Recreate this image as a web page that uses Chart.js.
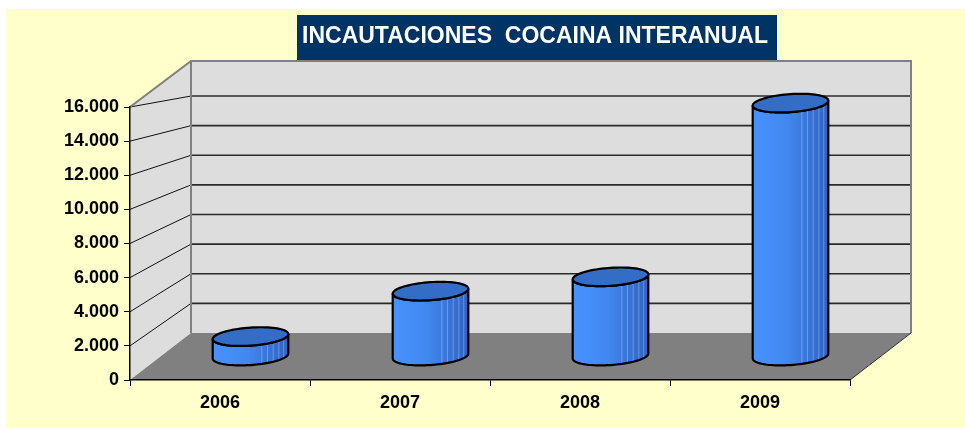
<!DOCTYPE html>
<html>
<head>
<meta charset="utf-8">
<script src="https://cdn.jsdelivr.net/npm/chart.js@4/dist/chart.umd.min.js"></script>
<style>
  html, body { margin: 0; padding: 0; background: #ffffff; }
  #wrap { width: 965px; height: 430px; }
</style>
</head>
<body>
<div id="wrap"><canvas id="incautaciones" width="965" height="430"></canvas></div>
<script>
// Chart data
var titleText = 'INCAUTACIONES  COCAINA INTERANUAL';
var years = ['2006', '2007', '2008', '2009'];
var seizures = [1250, 4100, 5000, 15900];
var yMax = 16000;
var yStep = 2000;

// 3D look: how far the back wall sits from the front axes
var depth = { dx: 61, dy0: -47, k: 0.868, wallTop: 61 };

function backY(yFront, bottom) {
  return yFront + depth.dy0 + (yFront - bottom) * (depth.k - 1);
}

function midY(yFront, bottom) {
  return (yFront + backY(yFront, bottom)) / 2;
}

// Yellow background, walls, floor and grid lines
var wallsPlugin = {
  id: 'walls',
  beforeDraw: function(chart) {
    var ctx = chart.ctx;
    var area = chart.chartArea;
    var yScale = chart.scales.y;
    ctx.save();
    ctx.fillStyle = '#ffffff';
    ctx.fillRect(0, 0, chart.width, chart.height);
    ctx.fillStyle = '#ffffcc';
    ctx.fillRect(6, 9, chart.width - 6, chart.height - 11);

    var L = area.left, R = area.right, T = area.top, B = area.bottom;
    var bL = L + depth.dx, bR = R + depth.dx;
    var bB = backY(B, B);
    var wt = depth.wallTop;

    // side wall
    ctx.fillStyle = '#dddddd';
    ctx.beginPath();
    ctx.moveTo(L, B); ctx.lineTo(L, T); ctx.lineTo(bL, wt); ctx.lineTo(bL, bB);
    ctx.closePath();
    ctx.fill();
    // back wall
    ctx.fillRect(bL, wt, bR - bL, bB - wt);
    // floor
    ctx.fillStyle = '#808080';
    ctx.beginPath();
    ctx.moveTo(L, B); ctx.lineTo(R, B); ctx.lineTo(bR, bB); ctx.lineTo(bL, bB);
    ctx.closePath();
    ctx.fill();

    // grid lines
    for (var v = yStep; v <= yMax; v += yStep) {
      var yf = yScale.getPixelForValue(v);
      var yb = backY(yf, B);
      ctx.strokeStyle = '#111111';
      ctx.lineWidth = 1;
      ctx.beginPath();
      ctx.moveTo(L, yf); ctx.lineTo(bL, yb);
      ctx.stroke();
      ctx.strokeStyle = '#2a2a2a';
      ctx.lineWidth = 1.6;
      ctx.beginPath();
      ctx.moveTo(bL, yb); ctx.lineTo(bR, yb);
      ctx.stroke();
    }

    // wall outlines
    ctx.strokeStyle = '#808080';
    ctx.lineWidth = 2;
    ctx.beginPath();
    ctx.moveTo(L, T); ctx.lineTo(bL, wt); ctx.lineTo(bR, wt); ctx.lineTo(bR, bB);
    ctx.moveTo(bL, wt); ctx.lineTo(bL, bB);
    ctx.stroke();
    ctx.strokeStyle = '#333333';
    ctx.lineWidth = 1;
    ctx.beginPath();
    ctx.moveTo(R, B); ctx.lineTo(bR, bB);
    ctx.stroke();
    ctx.restore();
  },
  afterDraw: function(chart) {
    // title box
    var ctx = chart.ctx;
    ctx.save();
    ctx.fillStyle = '#003366';
    ctx.fillRect(297, 15, 480, 45);
    ctx.fillStyle = '#ffffff';
    ctx.font = 'bold 23px "Liberation Sans", Arial, sans-serif';
    ctx.textAlign = 'center';
    ctx.textBaseline = 'middle';
    ctx.fillText(titleText, 535, 37);
    ctx.restore();
  }
};

// Draw each bar as a cylinder, placed half way into the depth
var cylinderPlugin = {
  id: 'cylinders',
  afterDatasetsDraw: function(chart) {
    var ctx = chart.ctx;
    var B = chart.chartArea.bottom;
    var meta = chart.getDatasetMeta(0);
    meta.data.forEach(function(bar) {
      var a = bar.width / 2;
      var cx = bar.x + depth.dx / 2;
      var topY = midY(bar.y, B);
      var botY = midY(bar.base, B);
      var b = 9, tilt = -2.5;
      function pt(cy, th) {
        return [cx + a * Math.cos(th), cy + b * Math.sin(th) + tilt * Math.cos(th)];
      }
      var n = 40, i, p;
      ctx.save();
      // body
      ctx.beginPath();
      p = pt(topY, 0); ctx.moveTo(p[0], p[1]);
      for (i = 0; i <= n; i++) { p = pt(botY, Math.PI * i / n); ctx.lineTo(p[0], p[1]); }
      for (i = n; i >= 0; i--) { p = pt(topY, Math.PI * i / n); ctx.lineTo(p[0], p[1]); }
      ctx.closePath();
      var g = ctx.createLinearGradient(cx - a, 0, cx + a, 0);
      g.addColorStop(0, '#4892ff');
      g.addColorStop(0.45, '#4288f0');
      g.addColorStop(1, '#3063c0');
      ctx.fillStyle = g;
      ctx.fill();
      // facet lines
      ctx.strokeStyle = 'rgba(170,200,255,0.45)';
      ctx.lineWidth = 1;
      [0.3, 0.45, 0.6, 0.75, 0.88].forEach(function(f) {
        var th = Math.acos(f);
        var p1 = pt(topY, th), p2 = pt(botY, th);
        ctx.beginPath();
        ctx.moveTo(p1[0], p1[1]); ctx.lineTo(p2[0], p2[1]);
        ctx.stroke();
      });
      ctx.strokeStyle = '#000000';
      ctx.lineWidth = 2.2;
      ctx.beginPath();
      p = pt(topY, 0); ctx.moveTo(p[0], p[1]);
      for (i = 0; i <= n; i++) { p = pt(botY, Math.PI * i / n); ctx.lineTo(p[0], p[1]); }
      for (i = n; i >= 0; i--) { p = pt(topY, Math.PI * i / n); ctx.lineTo(p[0], p[1]); }
      ctx.closePath();
      ctx.stroke();
      // top
      ctx.beginPath();
      for (i = 0; i <= 2 * n; i++) {
        p = pt(topY, Math.PI * i / n);
        if (i === 0) ctx.moveTo(p[0], p[1]); else ctx.lineTo(p[0], p[1]);
      }
      ctx.closePath();
      ctx.fillStyle = '#336dc6';
      ctx.fill();
      ctx.stroke();
      ctx.restore();
    });
  }
};

function thousands(v) {
  return String(v).replace(/\B(?=(\d{3})+(?!\d))/g, '.');
}

var ctx = document.getElementById('incautaciones').getContext('2d');
new Chart(ctx, {
  type: 'bar',
  data: {
    labels: years,
    datasets: [{
      label: 'Incautaciones',
      data: seizures,
      backgroundColor: 'rgba(0,0,0,0)',
      borderWidth: 0,
      categoryPercentage: 1,
      barPercentage: 0.42
    }]
  },
  options: {
    responsive: false,
    animation: false,
    events: [],
    layout: { padding: { left: 0, right: 115, top: 107, bottom: 0 } },
    plugins: {
      legend: { display: false },
      title: { display: false },
      tooltip: { enabled: false }
    },
    scales: {
      x: {
        afterFit: function(scale) { scale.height = 50; },
        border: { display: true, color: '#000000', width: 1.5 },
        grid: { drawOnChartArea: false, drawTicks: true, tickLength: 6, color: '#000000', offset: true },
        ticks: {
          color: '#000000',
          padding: 6,
          font: { family: '"Liberation Sans", Arial, sans-serif', size: 18, weight: 'bold' }
        }
      },
      y: {
        min: 0,
        max: yMax,
        afterFit: function(scale) { scale.width = 130; },
        border: { display: true, color: '#000000', width: 1.5 },
        grid: { drawOnChartArea: false, drawTicks: true, tickLength: 6, color: '#000000' },
        ticks: {
          stepSize: yStep,
          color: '#000000',
          padding: 5,
          font: { family: '"Liberation Sans", Arial, sans-serif', size: 18, weight: 'bold' },
          callback: function(v) { return thousands(v); }
        }
      }
    }
  },
  plugins: [wallsPlugin, cylinderPlugin]
});
</script>
</body>
</html>
